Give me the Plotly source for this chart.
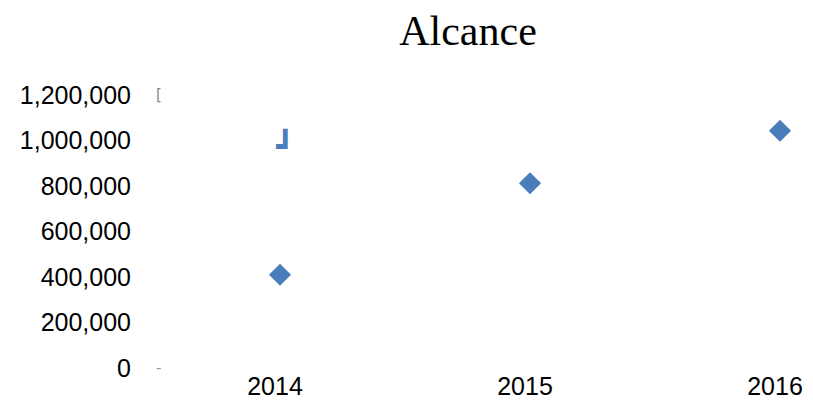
import plotly.graph_objects as go

years = [2014, 2015, 2016]
alcance = [410000, 812000, 1043000]
extra_x = [2014.02]
extra_y = [960000]
y_ticks = [0, 200000, 400000, 600000, 800000, 1000000, 1200000]

blue = "#4a7ebb"
W, H = 805, 405  # body margin of 8px in the page

fig = go.Figure()
fig.add_trace(go.Scatter(
    x=years, y=alcance, mode="markers",
    marker=dict(symbol="diamond", size=17, color=blue, line=dict(width=0)),
    cliponaxis=False, showlegend=False))
fig.add_trace(go.Scatter(
    x=extra_x, y=extra_y, mode="text", text=["┛"],
    textfont=dict(family="DejaVu Sans", size=30, color=blue),
    cliponaxis=False, showlegend=False))

fig.update_layout(
    width=W, height=H,
    margin=dict(l=152, r=0, t=87, b=45),
    paper_bgcolor="white", plot_bgcolor="white",
    font=dict(family="Liberation Sans, Arial", size=25, color="black"),
    title=dict(text="Alcance", x=(460 - 152) / (W - 152), xref="paper", xanchor="center",
               y=1 - 22 / H, yanchor="middle",
               font=dict(family="Liberation Serif, Times New Roman", size=42, color="black")),
    xaxis=dict(range=[2013.52, 2016.132], tickvals=years, ticktext=[str(y) for y in years],
               showgrid=False, zeroline=False, showline=False, ticks="",
               ticklabelshift=-5, ticklabelstandoff=1),
    yaxis=dict(range=[0, 1200000], tickvals=y_ticks, tickformat=",d",
               showgrid=False, zeroline=False, showline=False, ticks="",
               ticklabelstandoff=28),
    annotations=[
        dict(xref="paper", yref="paper", x=-0.002, y=1.0, text="[", showarrow=False,
             xanchor="center", yanchor="middle",
             font=dict(family="DejaVu Sans", size=15, color="#888888")),
        dict(xref="paper", yref="paper", x=-0.002, y=0.0, text="-", showarrow=False,
             xanchor="center", yanchor="middle",
             font=dict(family="DejaVu Sans", size=15, color="#999999")),
    ],
)
fig.write_html("out.html")
